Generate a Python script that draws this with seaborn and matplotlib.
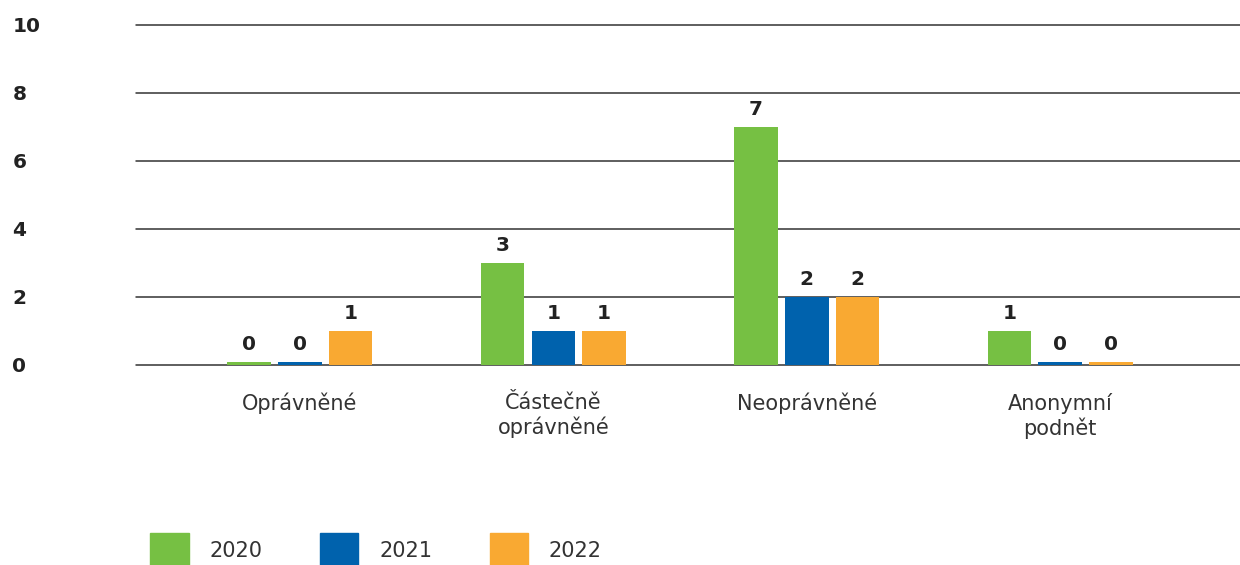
import pandas as pd
import matplotlib.pyplot as plt
import seaborn as sns

categories = ['Oprávněné', 'Částečně\noprávněné', 'Neoprávněné', 'Anonymní\npodnět']
years = ['2020', '2021', '2022']
values_2020 = [0, 3, 7, 1]
values_2021 = [0, 1, 2, 0]
values_2022 = [1, 1, 2, 0]
colors = ['#76C043', '#0062AD', '#F9A932']

series = {'2020': values_2020, '2021': values_2021, '2022': values_2022}
rows = []
for year in years:
    for cat, v in zip(categories, series[year]):
        rows.append({'category': cat, 'year': year, 'value': v,
                     # zero values still get a thin visible strip
                     'shown': v if v > 0 else 0.09})
df = pd.DataFrame(rows)

sns.set_style('white')
plt.rcParams['font.family'] = ['DejaVu Sans']

fig = plt.figure(figsize=(12.4, 5.65), dpi=100)
ax = fig.add_axes([0.1097, 0.354, 0.8903, 0.602])

sns.barplot(data=df, x='category', y='shown', hue='year', order=categories,
            hue_order=years, palette=colors, width=0.6, gap=0.14,
            saturation=1, linewidth=0, ax=ax, legend=False, zorder=2)

# value labels
for container, year in zip(ax.containers, years):
    for bar, v in zip(container, series[year]):
        ax.annotate(str(v), (bar.get_x() + bar.get_width() / 2, bar.get_height()),
                    xytext=(0, 6), textcoords='offset points', ha='center', va='bottom',
                    fontsize=14.5, fontweight='bold', color='#222222')

ax.set_xlim(-0.647, 3.71)
ax.set_ylim(0, 10)
ax.set_yticks([0, 2, 4, 6, 8, 10])
for y in [0, 2, 4, 6, 8, 10]:
    ax.axhline(y, color='#333333', linewidth=1.1, zorder=1, clip_on=False)
ax.tick_params(axis='y', length=0, pad=89, labelsize=14.5)
for lbl in ax.get_yticklabels():
    lbl.set_horizontalalignment('left')
    lbl.set_fontweight('bold')
    lbl.set_color('#222222')
ax.tick_params(axis='x', length=0, pad=20, labelsize=15, labelcolor='#333333')
ax.set_xlabel('')
ax.set_ylabel('')
for s in ax.spines.values():
    s.set_visible(False)

handles = [plt.Rectangle((0, 0), 1, 1, color=c) for c in colors]
fig.legend(handles, years, loc='lower left', bbox_to_anchor=(0.106, -0.04), ncol=3,
           frameon=False, fontsize=15, handlelength=1.85, handleheight=2.3,
           handletextpad=1.0, columnspacing=2.75, labelcolor='#333333')

fig.savefig('out.png', dpi=100)
